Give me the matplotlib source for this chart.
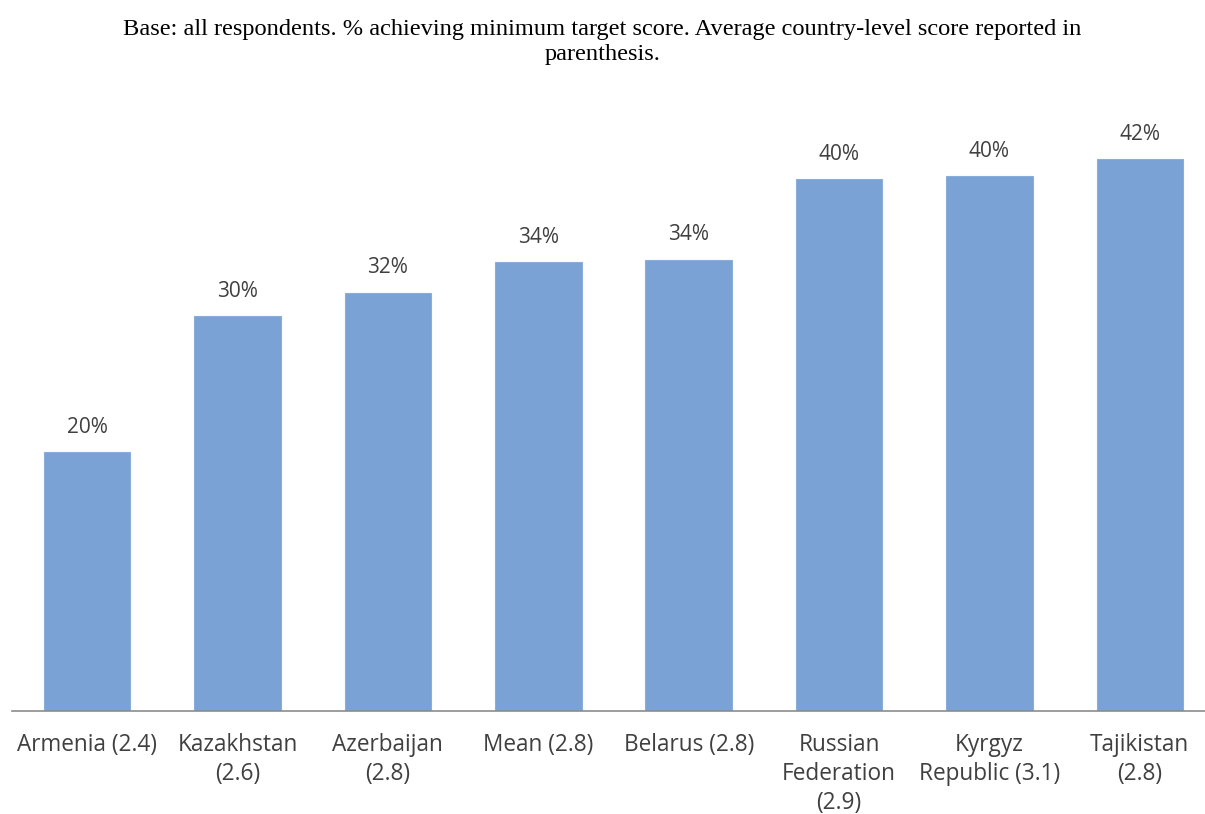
import matplotlib
matplotlib.use("Agg")
import matplotlib.pyplot as plt

categories = ["Armenia (2.4)", "Kazakhstan\n(2.6)", "Azerbaijan\n(2.8)", "Mean (2.8)",
              "Belarus (2.8)", "Russian\nFederation\n(2.9)", "Kyrgyz\nRepublic (3.1)",
              "Tajikistan\n(2.8)"]
pct_achieving = [19.6, 29.9, 31.7, 34.0, 34.2, 40.3, 40.5, 41.8]

fig = plt.figure(figsize=(12.05, 8.14), dpi=100)
ax = fig.add_axes([12 / 1205, (814 - 711) / 814, 1203 / 1205, 594 / 814])

x = list(range(len(categories)))
bars = ax.bar(x, pct_achieving, width=0.575, color="#7ba2d5", edgecolor="#8aaedc", linewidth=0.8)

for xi, v in zip(x, pct_achieving):
    ax.text(xi, v + 1.1, f"{v:.0f}%", ha="center", va="bottom",
            fontsize=15, family="Open Sans", color="#404040")

ax.set_xlim(-0.5, 7.5)
ax.set_ylim(0, 45)
ax.set_xticks(x)
ax.set_xticklabels(categories, fontsize=16.3, family="Open Sans", color="#404040", linespacing=1.27)
ax.tick_params(axis="x", length=0, pad=16)
ax.set_yticks([])
for side in ("top", "right", "left"):
    ax.spines[side].set_visible(False)
ax.spines["bottom"].set_color("#8c8c8c")
ax.spines["bottom"].set_linewidth(1.2)

fig.text(0.5, 1 - 42 / 814,
         "Base: all respondents. % achieving minimum target score. Average country-level score reported in\nparenthesis.",
         ha="center", va="center", fontsize=17.6, family="Liberation Serif", color="#000000",
         linespacing=1.28)

fig.savefig("out.png", dpi=100, facecolor="white")
